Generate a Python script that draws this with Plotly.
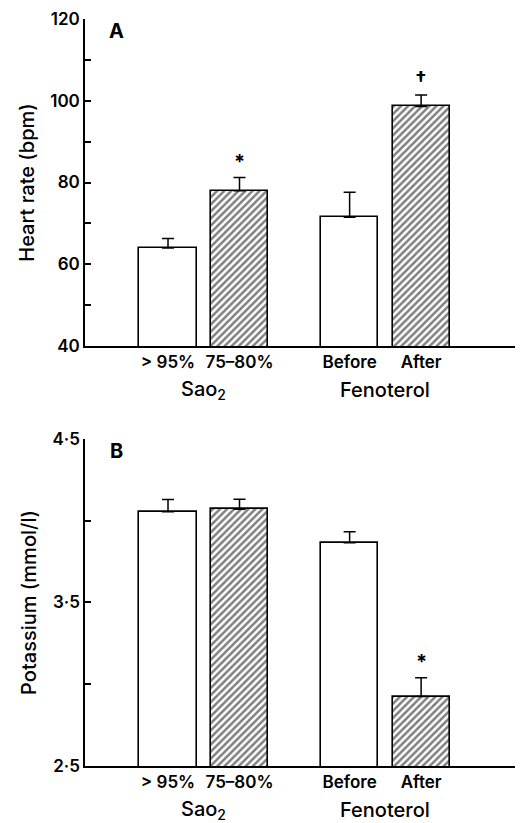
import plotly.graph_objects as go
from plotly.subplots import make_subplots

# ---- data ----
categories = ["> 95%", "75–80%", "Before", "After"]
groups = ["Sao<sub>2</sub>", "Fenoterol"]
hatched = [False, True, False, True]

heart_rate = [64.0, 78.0, 71.5, 98.6]
heart_rate_err = [2.3, 3.2, 6.1, 2.8]
heart_marks = ["", "*", "", "†"]

potassium = [4.055, 4.07, 3.865, 2.925]
potassium_err = [0.075, 0.062, 0.068, 0.115]
potassium_marks = ["", "", "", "*"]

hr_ticks = [40, 50, 60, 70, 80, 90, 100, 110, 120]
hr_ticktext = ["40", "", "60", "", "80", "", "100", "", "120"]
k_ticks = [2.5, 3.0, 3.5, 4.0, 4.5]
k_ticktext = ["2·5", "", "3·5", "", "4·5"]

# ---- layout helpers ----
GAP = 0.54
xpos = [i + (GAP if i >= 2 else 0) for i in range(len(categories))]
group_centers = [(xpos[0] + xpos[1]) / 2, (xpos[2] + xpos[3]) / 2]
FONT = "Inter"
W = 600

def f(size, weight=W):
    return dict(family=FONT, size=size, color="black", weight=weight)

fig = make_subplots(rows=2, cols=1, vertical_spacing=0.1244)

def add_panel(row, vals, errs, marks):
    for i in range(len(vals)):
        pat = dict(shape="/" if hatched[i] else "", fgcolor="black",
                   bgcolor="white", size=5, solidity=0.5)
        fig.add_trace(go.Bar(
            x=[xpos[i]], y=[vals[i]], width=0.8,
            marker=dict(color="white", pattern=pat,
                        line=dict(color="black", width=1.6)),
            error_y=dict(type="data", array=[errs[i]], arrayminus=[0],
                         symmetric=False, color="black", thickness=1.5, width=6),
            showlegend=False, hoverinfo="skip"), row=row, col=1)
        if marks[i]:
            fig.add_annotation(x=xpos[i], y=vals[i] + errs[i], text=marks[i],
                               showarrow=False, yanchor="bottom", xanchor="center",
                               yshift=2, font=f(20, 700),
                               xref=f"x{'' if row == 1 else row}",
                               yref=f"y{'' if row == 1 else row}")

add_panel(1, heart_rate, heart_rate_err, heart_marks)
add_panel(2, potassium, potassium_err, potassium_marks)

xrange = [-1.161, 4.867]
for r in (1, 2):
    fig.update_xaxes(row=r, col=1, range=xrange, tickvals=xpos, ticktext=categories,
                     showline=True, linecolor="black", linewidth=1.5,
                     ticks="", showgrid=False, zeroline=False, automargin=False,
                     tickfont=f(17))

fig.update_yaxes(row=1, col=1, range=[40, 120], tickvals=hr_ticks, ticktext=hr_ticktext,
                 domain=[0.5622, 1.0],
                 title=dict(text="Heart rate (bpm)", font=f(20, 500), standoff=10))
fig.update_yaxes(row=2, col=1, range=[2.5, 4.5], tickvals=k_ticks, ticktext=k_ticktext,
                 domain=[0.0, 0.4378],
                 title=dict(text="Potassium (mmol/l)", font=f(20, 500), standoff=10))
for r in (1, 2):
    fig.update_yaxes(row=r, col=1, showline=True, linecolor="black", linewidth=1.5,
                     ticks="inside", ticklen=6, tickcolor="black", tickwidth=1.5,
                     showgrid=False, zeroline=False, automargin=False,
                     tickfont=f(17))

# panel letters and group labels
for r, letter in ((1, "A"), (2, "B")):
    xr = "x" if r == 1 else "x2"
    yr = "y" if r == 1 else "y2"
    fig.add_annotation(x=0.074, y=0.963, xref=f"{xr} domain", yref=f"{yr} domain",
                       text=letter, showarrow=False, xanchor="center", yanchor="middle",
                       font=f(20, 700))
    for gx, gname in zip(group_centers, groups):
        fig.add_annotation(x=gx, y=-0.1346, xref=xr, yref=f"{yr} domain",
                           text=gname, showarrow=False, xanchor="center", yanchor="middle",
                           font=f(20, 500))

# page body has an 8px margin: figure is shifted by 8px, so compensate
fig.update_layout(width=515, height=815, plot_bgcolor="white", paper_bgcolor="white",
                  margin=dict(l=77, r=7, t=11, b=57, autoexpand=False), bargap=0,
                  font=dict(family=FONT, color="black"))

fig.write_html("out.html")
